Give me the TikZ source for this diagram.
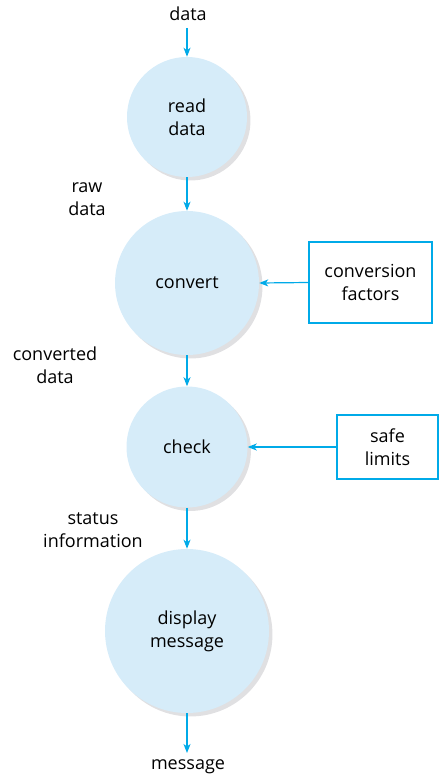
\documentclass[tikz,border=0pt]{standalone}
\usepackage{fontspec}
\setmainfont{Open Sans}
\usetikzlibrary{arrows.meta,shadows}
\definecolor{flowcyan}{RGB}{0,170,232}
\definecolor{bubblefill}{RGB}{214,236,249}
\definecolor{bubbleshade}{RGB}{224,224,226}
\tikzset{
  txt/.style={font=\fontsize{13.5}{17}\selectfont},
  bubble/.style={circle, fill=bubblefill, inner sep=0pt, align=center, txt,
    drop shadow={shadow xshift=2.6pt, shadow yshift=-2.6pt, fill=bubbleshade, opacity=1}},
  store/.style={draw=flowcyan, line width=0.9pt, fill=white, align=center,
    txt, inner sep=0pt},
  lbl/.style={align=center, txt, inner sep=0pt},
  flow/.style={draw=flowcyan, line width=0.9pt,
    -{Stealth[length=6.75pt, width=5.25pt, inset=1.9pt]}}
}
\begin{document}
\begin{tikzpicture}[x=0.75pt, y=-0.75pt]
\useasboundingbox (0,0) rectangle (443,781);
% processes
\node[bubble, minimum size=90pt] (read) at (187,117) {read\\data};
\node[bubble, minimum size=108pt] (conv) at (187,283) {convert};
\node[bubble, minimum size=90.75pt] (check) at (187,447) {check};
\node[bubble, minimum size=123pt] (disp) at (187,631) {display\\message};
% data stores
\node[store, minimum width=92.25pt, minimum height=60.75pt] (factors) at (370.5,282.5) {conversion\\factors};
\node[store, minimum width=75.75pt, minimum height=48pt] (limits) at (387.5,447) {safe\\limits};
% flow labels
\node[lbl] (din) at (188,14) {data};
\node[lbl] (raw) at (87,199) {raw\\data};
\node[lbl] (cdata) at (55,365) {converted\\data};
\node[lbl] (status) at (93,530) {status\\information};
\node[lbl] (msg) at (188,767) {message};
\coordinate (dintail) at (187,28);
\coordinate (msgtop) at (187,753);
% flows
\draw[flow] (dintail) -- (read.north);
\draw[flow] (read.south) -- (conv.north);
\draw[flow] (conv.south) -- (check.north);
\draw[flow] (check.south) -- (disp.north);
\draw[flow] (disp.south) -- (msgtop);
\draw[flow] (factors.west) -- (conv.east);
\draw[flow] (limits.west) -- (check.east);
\end{tikzpicture}
\end{document}
